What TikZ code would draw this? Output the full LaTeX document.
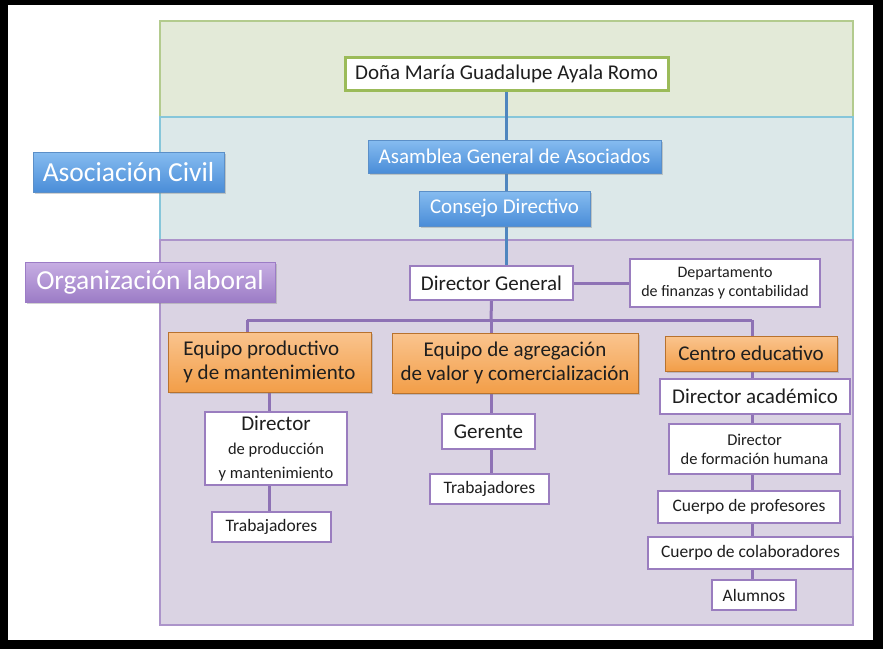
\documentclass[tikz,border=0pt]{standalone}
\usepackage{fontspec}
\setmainfont{Carlito}
\usetikzlibrary{shadows}
\definecolor{inkgray}{HTML}{1E1E1E}
\definecolor{bandgreen}{HTML}{E3EAD8}
\definecolor{bandgreenline}{HTML}{B3CB8E}
\definecolor{bandblue}{HTML}{DCE8E9}
\definecolor{bandblueline}{HTML}{86C6DA}
\definecolor{bandpurple}{HTML}{DAD3E3}
\definecolor{bandpurpleline}{HTML}{AC94CA}
\definecolor{boxgreen}{HTML}{9BBB59}
\definecolor{boxpurple}{HTML}{9A7DBF}
\definecolor{bluetop}{HTML}{86BCF0}
\definecolor{bluebot}{HTML}{4A8DD8}
\definecolor{blueline}{HTML}{5B8FC8}
\definecolor{purpletop}{HTML}{C7AEE3}
\definecolor{purplebot}{HTML}{9C7CC6}
\definecolor{orangetop}{HTML}{FAC48E}
\definecolor{orangebot}{HTML}{F29E48}
\definecolor{orangeline}{HTML}{B8722E}
\definecolor{lineblue}{HTML}{4F86BF}
\definecolor{linepurple}{HTML}{8E72B5}
\tikzstyle{band}=[line width=1.3pt]
\tikzstyle{white box}=[fill=white, draw=boxpurple, line width=2.4pt, text=inkgray, inner sep=0pt, align=center, font=\fontsize{21}{24}\selectfont]
\tikzstyle{small box}=[white box, font=\fontsize{17.5}{19.5}\selectfont]
\tikzstyle{owner box}=[white box, draw=boxgreen, line width=3pt]
\tikzstyle{blue box}=[top color=bluetop, bottom color=bluebot, draw=blueline, line width=0.8pt, text=white, inner sep=0pt, font=\fontsize{21}{24}\selectfont, drop shadow={shadow xshift=1.5pt, shadow yshift=-1.5pt, opacity=0.35}]
\tikzstyle{big label}=[blue box, font=\fontsize{27.5}{30}\selectfont]
\tikzstyle{purple label}=[big label, top color=purpletop, bottom color=purplebot, draw=purplebot]
\tikzstyle{orange box}=[top color=orangetop, bottom color=orangebot, draw=orangeline, line width=1pt, text=inkgray, inner sep=0pt, font=\fontsize{21}{24}\selectfont, drop shadow={shadow xshift=1.5pt, shadow yshift=-1.5pt, opacity=0.35}]
\tikzstyle{blue edge}=[-, draw=lineblue, line width=3pt]
\tikzstyle{purple edge}=[-, draw=linepurple, line width=3pt]
\pgfdeclarelayer{bandlayer}
\pgfdeclarelayer{edgelayer}
\pgfdeclarelayer{nodelayer}
\pgfsetlayers{bandlayer,edgelayer,nodelayer,main}
\begin{document}
\begin{tikzpicture}[x=1pt, y=-1pt]
	\useasboundingbox (0,0) rectangle (883,649);
	\begin{pgfonlayer}{bandlayer}
		\fill [black] (0,0) rectangle (883,649);
		\fill [white] (8,5) rectangle (873,640);
		\filldraw [style=band, fill=bandgreen, draw=bandgreenline] (160,21) rectangle (853,117);
		\filldraw [style=band, fill=bandblue, draw=bandblueline] (160,117) rectangle (853,240);
		\filldraw [style=band, fill=bandpurple, draw=bandpurpleline] (160,240) rectangle (853,625);
	\end{pgfonlayer}
	\begin{pgfonlayer}{nodelayer}
		\node [style=owner box, minimum width=323pt, minimum height=33pt] (owner) at (506.5,73.5) {Doña María Guadalupe Ayala Romo};
		\node [style=big label, minimum width=191pt, minimum height=40pt] (civil) at (128.5,172) {Asociación Civil};
		\node [style=blue box, minimum width=293pt, minimum height=33pt] (assembly) at (514.5,156.5) {Asamblea General de Asociados};
		\node [style=blue box, minimum width=171pt, minimum height=35pt] (council) at (504.5,208.5) {Consejo Directivo};
		\node [style=purple label, minimum width=250pt, minimum height=40pt] (labor) at (150,282) {Organización laboral};
		\node [style=white box, minimum width=163pt, minimum height=34pt] (director) at (491.5,283) {Director General};
		\node [style=small box, font=\fontsize{16}{18.5}\selectfont, minimum width=190pt, minimum height=48pt] (finance) at (725,283) {Departamento\\de finanzas y contabilidad};
		% equipos
		\node [style=orange box, align=left, minimum width=203pt, minimum height=60pt] (production) at (269.5,362) {Equipo productivo\\y de mantenimiento};
		\node [style=orange box, align=center, minimum width=246pt, minimum height=60pt] (sales) at (515,363) {Equipo de agregación\\de valor y comercialización};
		\node [style=orange box, minimum width=172pt, minimum height=35pt] (school) at (751,353.5) {Centro educativo};
		% produccion
		\node [style=white box, minimum width=142pt, minimum height=73pt] (prodhead) at (276,448.5) {Director\\{\fontsize{16.5}{19.5}\selectfont de producción}\\{\fontsize{16.5}{19.5}\selectfont y mantenimiento}};
		\node [style=small box, minimum width=119pt, minimum height=30pt] (prodstaff) at (271.5,527) {Trabajadores};
		% comercializacion
		\node [style=white box, minimum width=93pt, minimum height=35pt] (manager) at (488.5,431.5) {Gerente};
		\node [style=small box, minimum width=119pt, minimum height=30pt] (salesstaff) at (489.5,489) {Trabajadores};
		% centro educativo
		\node [style=white box, minimum width=190pt, minimum height=35pt] (academic) at (755,396.5) {Director académico};
		\node [style=small box, font=\fontsize{16.5}{19}\selectfont, minimum width=171pt, minimum height=50pt] (formation) at (754.5,449) {Director\\de formación humana};
		\node [style=small box, minimum width=182pt, minimum height=32pt] (teachers) at (749,507) {Cuerpo de profesores};
		\node [style=small box, minimum width=205pt, minimum height=32pt] (helpers) at (750.5,553) {Cuerpo de colaboradores};
		\node [style=small box, minimum width=84pt, minimum height=30pt] (pupils) at (754,595) {Alumnos};
	\end{pgfonlayer}
	\begin{pgfonlayer}{edgelayer}
		\coordinate (trunk) at (491,320);
		\coordinate (left branch) at (247,320);
		\coordinate (right branch) at (752,320);
		\draw [style=blue edge] (owner.south) -- (owner.south |- director.north);
		\draw [style=purple edge] (director) -- (finance);
		\draw [style=purple edge] (director.south) -- (trunk);
		\draw [style=purple edge] (left branch) -- (right branch);
		\draw [style=purple edge] (left branch) -- (left branch |- production.north);
		\draw [style=purple edge] (trunk) -- (trunk |- sales.north);
		\draw [style=purple edge] (right branch) -- (right branch |- school.north);
		\draw [style=purple edge] (production.south) -- (production.south |- prodstaff.north);
		\draw [style=purple edge] (trunk |- sales.south) -- (trunk |- salesstaff.north);
		\draw [style=purple edge] (right branch |- school.south) -- (right branch |- pupils.north);
	\end{pgfonlayer}
\end{tikzpicture}
\end{document}
